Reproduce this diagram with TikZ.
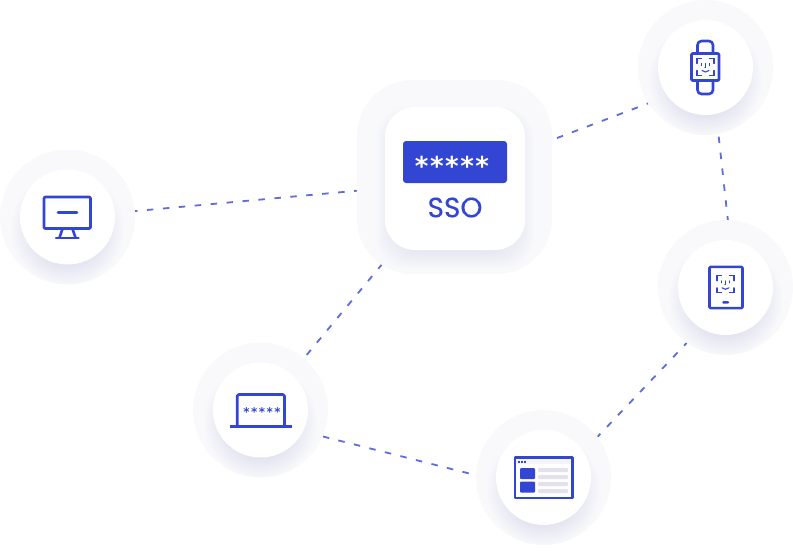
\documentclass[tikz,border=0pt]{standalone}
\usepackage{fontspec}
\usepackage{tikz}
\usetikzlibrary{backgrounds}
\setmainfont{Poppins}
\newfontfamily\ssofont[FakeBold=0.35]{Poppins}
\newfontfamily\starfont[LetterSpace=6]{DejaVu Sans Bold}
\newfontfamily\minifont[LetterSpace=12]{DejaVu Sans Bold}
\definecolor{iconblue}{HTML}{3346D3}
\definecolor{dashblue}{HTML}{5F6CDB}
\definecolor{ringgray}{HTML}{F9F9FB}
\definecolor{glowblue}{HTML}{B9BEEA}
\definecolor{barfill}{HTML}{E2E1EC}
\definecolor{stripfill}{HTML}{F4F4FD}
\newlength{\hubunit}
\setlength{\hubunit}{1pt}
\tikzstyle{hubring}=[circle, fill=ringgray, inner sep=0pt, minimum size=135\hubunit]
\tikzstyle{hubface}=[circle, fill=white, inner sep=0pt, minimum size=95\hubunit]
\tikzstyle{edgestyle}=[draw=dashblue, line width=1.8pt, dash pattern=on 6.5pt off 9.5pt]
\tikzstyle{iconline}=[draw=iconblue, line width=2.6pt, line join=round, line cap=round]
\tikzstyle{iconthin}=[draw=iconblue, line width=1.1pt, line cap=round]
\tikzstyle{iconfill}=[fill=iconblue]
\newcommand{\hubnode}[3]{
  \node [hubring] (#1) at (#2,#3) {};
  \begin{scope}
    \clip (#2,#3) circle (67.5);
    \foreach \glowr in {36,38,...,56} {
      \fill [glowblue, opacity=0.03] (#2,#3+12) circle (\glowr);
    }
  \end{scope}
  \node [hubface] (#1face) at (#2,#3) {};
}
\newcommand{\faceid}[1]{
  \begin{scope}[shift={#1}]
    \draw [iconthin] (-8.5,-3.5) -- (-8.5,-8.5) -- (-4,-8.5);
    \draw [iconthin] (4,-8.5) -- (8.5,-8.5) -- (8.5,-3.5);
    \draw [iconthin] (-8.5,3.5) -- (-8.5,8.5) -- (-4,8.5);
    \draw [iconthin] (4,8.5) -- (8.5,8.5) -- (8.5,3.5);
    \draw [iconthin] (-4,-3.5) -- (-4,-1.5);
    \draw [iconthin] (4,-3.5) -- (4,-1.5);
    \draw [iconthin] (0.3,-3.5) -- (0.3,0.5) -- (-0.7,0.5);
    \draw [iconthin] (-3.5,3.5) .. controls (-1,5.5) and (1,5.5) .. (3.5,3.5);
  \end{scope}
}
\begin{document}
\begin{tikzpicture}[x=1pt, y=-1pt]
\useasboundingbox (0,0) rectangle (793,558);

\node [rectangle, rounded corners=55pt, fill=ringgray, inner sep=0pt, minimum width=195pt, minimum height=194pt] (sso) at (454.5,177) {};
\begin{scope}
  \clip [rounded corners=55pt] (357,80) rectangle (552,274);
  \foreach \glowr in {0,2,...,20} {
    \fill [glowblue, opacity=0.03, rounded corners=30pt] (377+\glowr,107+\glowr) rectangle (533-\glowr,268-\glowr);
  }
\end{scope}
\node [rectangle, rounded corners=30pt, fill=white, inner sep=0pt, minimum width=140pt, minimum height=143pt] (ssoface) at (455,178.5) {};
\node [rectangle, rounded corners=3pt, fill=iconblue, inner sep=0pt, minimum width=104pt, minimum height=42pt] (ssobox) at (455,162) {};
\node [text=white, font=\starfont\fontsize{26}{26}\selectfont, inner sep=0pt] (ssostars) at (452,165.5) {*****};
\node [text=iconblue, font=\ssofont\fontsize{28}{28}\selectfont, inner sep=0pt] (ssolabel) at (455,207.5) {SSO};

\hubnode{watch}{705.5}{67.5}
\hubnode{tablet}{725.5}{287.5}
\hubnode{browser}{543.5}{477.5}
\hubnode{laptop}{260.5}{410}
\hubnode{monitor}{67.5}{217}

\begin{pgfonlayer}{background}
\draw [edgestyle, dash phase=4pt] (monitor.5) -- (sso.188);
\draw [edgestyle, dash phase=5pt] (watch.212) -- (sso.center);
\draw [edgestyle, dash phase=13.3pt] (watch.-79.4) -- (tablet.88.3);
\draw [edgestyle, dash phase=2.8pt] (tablet.235) -- (browser.37);
\draw [edgestyle] (laptop.-23) -- (browser.178);
\draw [edgestyle, dash phase=11.8pt] (laptop.50) -- (sso.center);
\end{pgfonlayer}

\begin{scope}[shift={(67.5,217)}]
  \draw [iconline, rounded corners=1pt] (-23.5,-20) rectangle (23,11.5);
  \draw [iconline] (-9.5,-4.3) -- (9.5,-4.3);
  \draw [iconline] (-5,12) -- (-8,20.5);
  \draw [iconline] (5,12) -- (8,20.5);
  \draw [iconline] (-11.5,20.8) -- (11,20.8);
\end{scope}

\begin{scope}[shift={(705.5,67.5)}]
  \draw [iconline, rounded corners=1pt] (-14,-14) rectangle (13.5,13);
  \draw [iconline, rounded corners=4pt] (-8,-14) -- (-8,-26.5) -- (7.5,-26.5) -- (7.5,-14);
  \draw [iconline, rounded corners=4pt] (-8,13) -- (-8,26.5) -- (7.5,26.5) -- (7.5,13);
\end{scope}
\faceid{(705.5,67)}

\begin{scope}[shift={(725.5,287.5)}]
  \draw [iconline, rounded corners=1pt] (-16,-20.6) rectangle (17,20.6);
  \fill [iconfill, rounded corners=1pt] (-3.2,13.5) rectangle (3.5,16.2);
\end{scope}
\faceid{(725.5,284.3)}

\begin{scope}[shift={(543.5,477.5)}]
  \fill [stripfill] (-28,-19.5) rectangle (29,-13.5);
  \draw [iconline] (-28.5,-20.3) rectangle (29,20.3);
  \fill [iconfill] (-25.5,-17) rectangle (-23.5,-15);
  \fill [iconfill] (-22.5,-17) rectangle (-20.5,-15);
  \fill [iconfill] (-19.5,-17) rectangle (-17.5,-15);
  \fill [iconfill, rounded corners=1pt] (-23.5,-9.5) rectangle (-8.5,1.5);
  \fill [iconfill, rounded corners=1pt] (-23.5,4.2) rectangle (-8.5,15.2);
  \fill [barfill, rounded corners=1pt] (-5.5,-9.5) rectangle (24.5,-5.5);
  \fill [barfill, rounded corners=1pt] (-5.5,-2.5) rectangle (24.5,1.5);
  \fill [barfill, rounded corners=1pt] (-5.5,4.5) rectangle (24.5,8.5);
  \fill [barfill, rounded corners=1pt] (-5.5,11.5) rectangle (24.5,15.5);
\end{scope}

\begin{scope}[shift={(260.5,410)}]
  \draw [iconline, rounded corners=1.5pt] (-23.3,15) -- (-23.3,-15.5) -- (24,-15.5) -- (24,15);
  \fill [iconfill] (-30.5,15) rectangle (31.5,18);
\end{scope}
\node [text=iconblue, font=\minifont\fontsize{12}{12}\selectfont, inner sep=0pt] (laptopstars) at (262,411.8) {*****};
\end{tikzpicture}
\end{document}
